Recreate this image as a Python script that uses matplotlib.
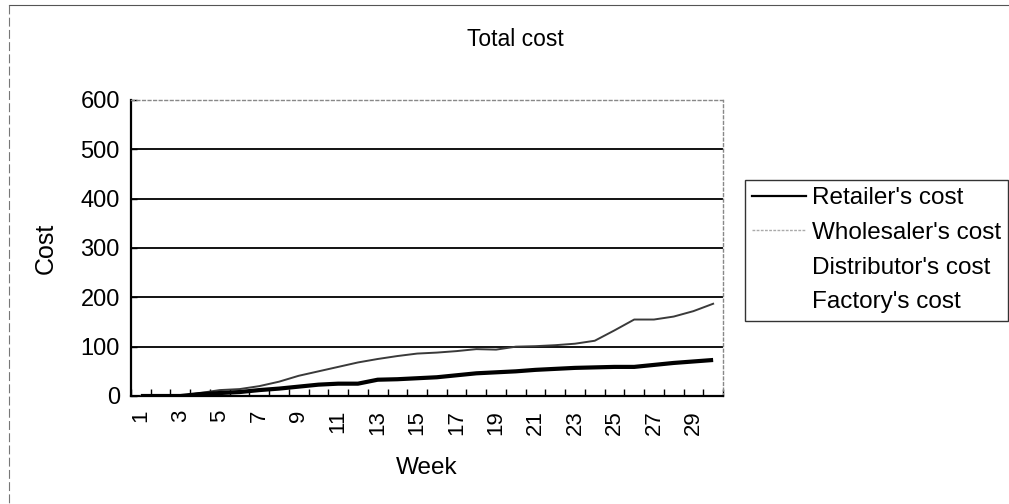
import matplotlib
matplotlib.use("Agg")
import matplotlib.pyplot as plt
from matplotlib.lines import Line2D

plt.rcParams['font.family'] = ['Liberation Sans', 'DejaVu Sans']

weeks = list(range(1, 31))
retailer_cost = [0, 0, 0, 4, 6, 8, 12, 15, 19, 23, 25, 25, 33, 34, 36,
                 38, 42, 46, 48, 50, 53, 55, 57, 58, 59, 59, 63, 67, 70, 73]
wholesaler_cost = [0, 0, 0, 6, 12, 14, 20, 29, 41, 50, 59, 68, 75, 81, 86,
                   88, 91, 95, 94, 100, 101, 103, 106, 112, 133, 155, 155, 161, 172, 187]
series_names = ["Retailer's cost", "Wholesaler's cost", "Distributor's cost", "Factory's cost"]
y_ticks = [0, 100, 200, 300, 400, 500, 600]
x_labels = [str(w) if w % 2 == 1 else "" for w in weeks]

W, H = 1009, 504
fig = plt.figure(figsize=(W / 100, H / 100), dpi=100)
left, right, top, bottom = 131, 723, 100, 396
ax = fig.add_axes([left / W, 1 - bottom / H, (right - left) / W, (bottom - top) / H])

# outer chart border (partial, as in the scan)
fig.add_artist(Line2D([9 / W, 1.0], [1 - 5 / H, 1 - 5 / H], transform=fig.transFigure,
                      color='#555555', lw=0.8))
fig.add_artist(Line2D([9 / W, 9 / W], [1 - 5 / H, 0.0], transform=fig.transFigure,
                      color='#777777', lw=0.8, ls=(0, (8, 3))))

for v in y_ticks[1:-1]:
    ax.axhline(v, color='black', lw=1.3, zorder=1)

ax.plot(weeks, retailer_cost, color='black', lw=3.0, zorder=4, solid_capstyle='butt')
ax.plot(weeks, wholesaler_cost, color='#3a3a3a', lw=1.4, zorder=3)

ax.set_xlim(0.5, 30.5)
ax.set_ylim(0, 600)
ax.set_yticks(y_ticks)
ax.set_yticklabels([str(v) for v in y_ticks], fontsize=17)
ax.set_xticks(weeks)
ax.set_xticklabels(x_labels, rotation=90, fontsize=16, va='top', ha='center')
ax.set_xticks([w + 0.5 for w in [0] + weeks], minor=True)
ax.tick_params(axis='x', which='major', length=0, pad=10)
ax.tick_params(axis='x', which='minor', direction='in', length=5, width=1, color='black')
ax.tick_params(axis='y', direction='in', length=4, width=1, pad=8)

for s in ['left', 'bottom']:
    ax.spines[s].set_linewidth(1.6)
    ax.spines[s].set_color('black')
for s in ['top', 'right']:
    ax.spines[s].set_linewidth(1.0)
    ax.spines[s].set_color('#888888')
    ax.spines[s].set_linestyle((0, (2, 2)))

ax.set_xlabel("Week", fontsize=17.5, labelpad=16)
ax.set_ylabel("Cost", fontsize=18, labelpad=16)
fig.text(515 / W, 1 - 39 / H, "Total cost", fontsize=16.5, ha='center', va='center')

handles = [
    Line2D([], [], color='black', lw=1.6),
    Line2D([], [], color='#aaaaaa', lw=1.0, ls=(0, (2, 1))),
    Line2D([], [], color='white', lw=1.0),
    Line2D([], [], color='white', lw=1.0),
]
leg = fig.legend(handles, series_names, loc='upper left',
                 bbox_to_anchor=(745 / W, 1 - 180 / H), bbox_transform=fig.transFigure,
                 fontsize=17.5, frameon=True, fancybox=False, edgecolor='black',
                 borderaxespad=0, borderpad=0.3, handlelength=2.2, handletextpad=0.25,
                 labelspacing=0.52)
leg.get_frame().set_linewidth(1.0)

fig.savefig("out.png", dpi=100)
